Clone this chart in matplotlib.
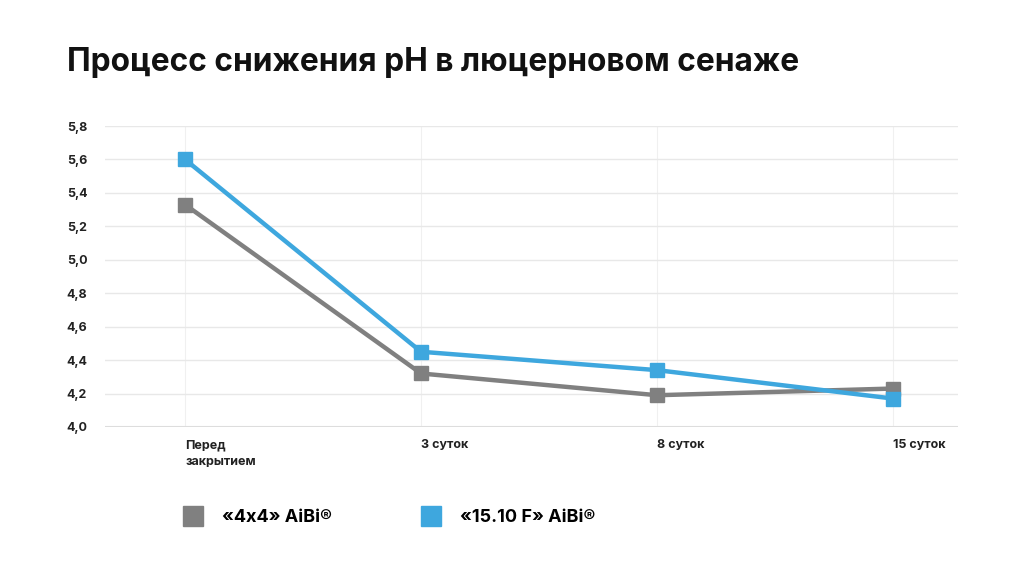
import matplotlib
matplotlib.use("Agg")
import matplotlib.pyplot as plt
from matplotlib.lines import Line2D

plt.rcParams["font.family"] = ["Inter", "DejaVu Sans"]
plt.rcParams["font.weight"] = "bold"

# Data
categories = ["Перед\nзакрытием", "3 суток", "8 суток", "15 суток"]
series_4x4 = [5.33, 4.32, 4.19, 4.23]
series_1510 = [5.60, 4.45, 4.34, 4.17]
y_ticks = [4.0, 4.2, 4.4, 4.6, 4.8, 5.0, 5.2, 5.4, 5.6, 5.8]
y_labels = ["4,0", "4,2", "4,4", "4,6", "4,8", "5,0", "5,2", "5,4", "5,6", "5,8"]
legend_names = ["«4x4» AiBi®", "«15.10 F» AiBi®"]

GRAY = "#808080"
BLUE = "#3ea7de"
GRID = "#e8e8e8"

fig = plt.figure(figsize=(10.24, 5.76), dpi=100)
ax = fig.add_axes([105 / 1024, 1 - 427 / 576, 853 / 1024, 301 / 576])

x = list(range(len(categories)))
ax.plot(x, series_4x4, color=GRAY, lw=3.2, marker="s", ms=10, clip_on=False, zorder=3)
ax.plot(x, series_1510, color=BLUE, lw=3.2, marker="s", ms=10, clip_on=False, zorder=4)

ax.set_ylim(4.0, 5.8)
ax.set_xlim(-0.339, 3.275)
ax.set_yticks(y_ticks)
ax.set_yticklabels(y_labels, ha="left", fontsize=9, fontweight="bold", color="#222222")
ax.set_xticks(x)
ax.set_xticklabels(categories, ha="left", va="top", fontsize=9, fontweight="bold",
                   color="#222222", multialignment="left", linespacing=1.5)
ax.tick_params(axis="y", length=0, pad=27.5)
ax.tick_params(axis="x", length=0, pad=9)

ax.grid(True, axis="y", color=GRID, lw=1)
ax.grid(True, axis="x", color="#f0f0f0", lw=0.8)
ax.set_axisbelow(True)
for s in ax.spines.values():
    s.set_visible(False)
ax.axhline(4.0, color="#dddddd", lw=1.5, zorder=1)

fig.text(67 / 1024, 1 - 63 / 576, "Процесс снижения pH в люцерновом сенаже",
         fontsize=22.8, fontweight="bold", color="#111111", va="center", ha="left")

handles = [Line2D([], [], color=c, marker="s", ms=15, lw=0) for c in (GRAY, BLUE)]
fig.legend(handles, legend_names, loc="center left", bbox_to_anchor=(168 / 1024, 1 - 518 / 576),
           ncol=2, frameon=False, handlelength=1.0, handletextpad=1.1, columnspacing=5.0,
           prop={"weight": "bold", "size": 13})

fig.savefig("out.png", dpi=100)
